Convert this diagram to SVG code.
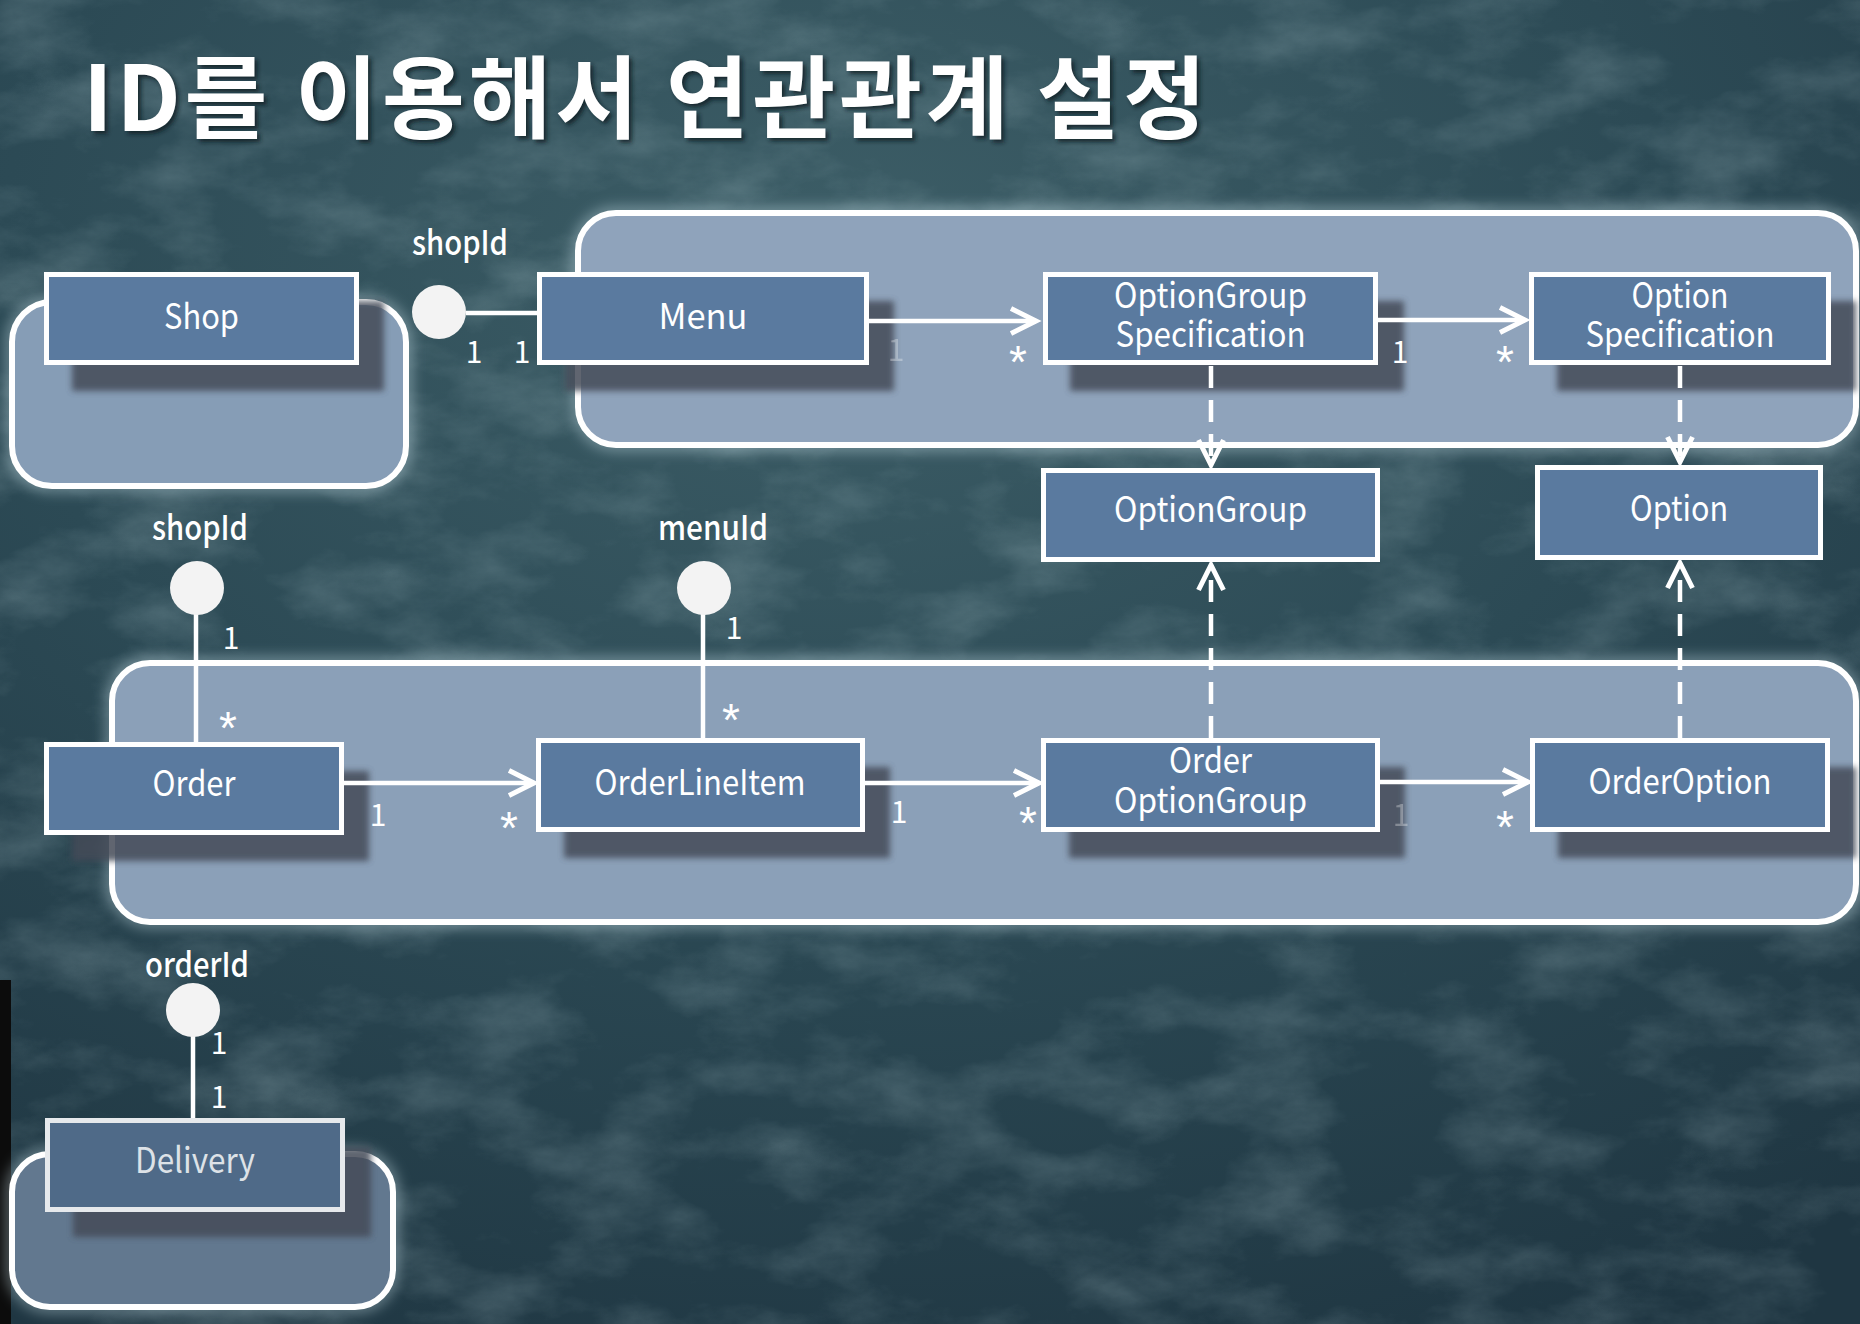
<svg xmlns="http://www.w3.org/2000/svg" width="1860" height="1324" viewBox="0 0 1860 1324">
<defs>
  <radialGradient id="bg" cx="0.45" cy="0.2" r="0.9">
    <stop offset="0" stop-color="#3d5e67"/>
    <stop offset="0.5" stop-color="#2c4a55"/>
    <stop offset="1" stop-color="#1f3642"/>
  </radialGradient>
  <filter id="tex" x="0" y="0" width="100%" height="100%">
    <feTurbulence type="fractalNoise" baseFrequency="0.009 0.016" numOctaves="6" seed="11" result="n"/>
    <feColorMatrix in="n" type="matrix" values="0 0 0 0 0.55  0 0 0 0 0.72  0 0 0 0 0.76  1.0 0 0 0 -0.42"/>
  </filter>
  <filter id="glow" x="-10%" y="-20%" width="120%" height="140%">
    <feGaussianBlur stdDeviation="7"/>
  </filter>
  <filter id="shd" x="-10%" y="-20%" width="120%" height="140%">
    <feGaussianBlur stdDeviation="3"/>
  </filter>
  <filter id="tshd" x="-5%" y="-20%" width="110%" height="140%">
    <feGaussianBlur stdDeviation="2"/>
  </filter>
  <marker id="arr" viewBox="-30 -16 36 32" refX="0" refY="0" markerWidth="36" markerHeight="32" markerUnits="userSpaceOnUse" orient="auto">
    <path d="M-25,-12.5 L0,0 L-25,12.5" fill="none" stroke="#ffffff" stroke-width="5"/>
  </marker>
  <style>
    .agg { stroke: #ffffff; stroke-width: 6; }
    .aglow { fill: none; stroke: #cfe6ee; stroke-width: 12; opacity: 0.45; filter: url(#glow); }
    .box { fill: #5a7a9f; stroke: #ffffff; stroke-width: 5; }
    .sh { fill: #444c59; opacity: 0.85; filter: url(#shd); }
    .t { font-family: "Noto Sans CJK KR", "Noto Sans", sans-serif; font-size: 35px; fill: #ffffff; text-anchor: middle; }
    .key { font-family: "Noto Sans CJK KR", "Noto Sans", sans-serif; font-size: 34px; font-weight: 500; fill: #ffffff; text-anchor: middle; }
    .m { font-family: "Noto Sans CJK KR", "Noto Sans", sans-serif; font-size: 30px; fill: #ffffff; text-anchor: middle; }
    .a { font-family: "Liberation Sans", Arial, sans-serif; font-size: 46px; fill: #ffffff; text-anchor: middle; }
    .faded { opacity: 0.3; }
    .ln { stroke: #ffffff; stroke-width: 4.5; fill: none; }
    .dash { stroke: #ffffff; stroke-width: 4.5; fill: none; stroke-dasharray: 22 12; }
    .pin { fill: #f3f3f3; }
  </style>
</defs>

<!-- background -->
<rect x="0" y="0" width="1860" height="1324" fill="url(#bg)"/>
<rect x="0" y="0" width="1860" height="1324" filter="url(#tex)" opacity="0.45"/>
<rect x="0" y="980" width="11" height="344" fill="#0c0c0c"/>

<!-- title -->
<g id="title">
  <text x="86" y="134" font-family="'Noto Sans CJK KR', 'Noto Sans', sans-serif" font-size="90" font-weight="700" fill="#0f1c22" opacity="0.8" textLength="1123" lengthAdjust="spacing" filter="url(#tshd)">ID를 이용해서 연관관계 설정</text>
  <text x="83" y="131" font-family="'Noto Sans CJK KR', 'Noto Sans', sans-serif" font-size="90" font-weight="700" fill="#ffffff" textLength="1123" lengthAdjust="spacing">ID를 이용해서 연관관계 설정</text>
</g>

<!-- aggregates -->
<g id="aggregates">
  <rect class="aglow" x="12" y="302" width="394" height="184" rx="40"/>
  <rect class="agg" x="12" y="302" width="394" height="184" rx="40" fill="#869db6"/>
  <rect class="aglow" x="578" y="213" width="1278" height="232" rx="38"/>
  <rect class="agg" x="578" y="213" width="1278" height="232" rx="38" fill="#8fa3bb"/>
  <rect class="aglow" x="112" y="663" width="1744" height="259" rx="38"/>
  <rect class="agg" x="112" y="663" width="1744" height="259" rx="38" fill="#8ba0b8"/>
  <rect class="aglow" x="12" y="1154" width="381" height="153" rx="38"/>
  <rect class="agg" x="12" y="1154" width="381" height="153" rx="38" fill="#62788f"/>
</g>

<!-- shadows -->
<g id="shadows">
  <rect class="sh" x="72" y="301" width="312" height="90"/>
  <rect class="sh" x="565" y="301" width="329" height="90"/>
  <rect class="sh" x="1070" y="301" width="334" height="90"/>
  <rect class="sh" x="1557" y="301" width="299" height="90"/>
  <rect class="sh" x="72" y="771" width="297" height="90"/>
  <rect class="sh" x="564" y="767" width="326" height="91"/>
  <rect class="sh" x="1069" y="767" width="336" height="91"/>
  <rect class="sh" x="1558" y="767" width="298" height="91"/>
  <rect class="sh" x="73" y="1147" width="298" height="90" opacity="0.7"/>
</g>

<!-- connectors -->
<g id="connectors">
  <line class="ln" x1="466" y1="313" x2="540" y2="313"/>
  <circle class="pin" cx="439" cy="312" r="27"/>
  <line class="ln" x1="869" y1="321" x2="1036" y2="321" marker-end="url(#arr)"/>
  <line class="ln" x1="1378" y1="320" x2="1525" y2="320" marker-end="url(#arr)"/>
  <line class="dash" x1="1211" y1="366" x2="1211" y2="465" marker-end="url(#arr)"/>
  <line class="dash" x1="1680" y1="366" x2="1680" y2="462" marker-end="url(#arr)"/>

  <line class="ln" x1="196" y1="614" x2="196" y2="744"/>
  <circle class="pin" cx="197" cy="588" r="27"/>
  <line class="ln" x1="703" y1="614" x2="703" y2="740"/>
  <circle class="pin" cx="704" cy="588" r="27"/>

  <line class="ln" x1="344" y1="783" x2="534" y2="783" marker-end="url(#arr)"/>
  <line class="ln" x1="865" y1="783" x2="1039" y2="783" marker-end="url(#arr)"/>
  <line class="ln" x1="1380" y1="782" x2="1528" y2="782" marker-end="url(#arr)"/>
  <line class="dash" x1="1211" y1="738" x2="1211" y2="565" marker-end="url(#arr)"/>
  <line class="dash" x1="1680" y1="738" x2="1680" y2="563" marker-end="url(#arr)"/>

  <line class="ln" x1="193" y1="1036" x2="193" y2="1120"/>
  <circle class="pin" cx="193" cy="1010" r="27"/>

  <text class="key" x="460" y="255" textLength="96" lengthAdjust="spacingAndGlyphs">shopId</text>
  <text class="key" x="200" y="540" textLength="96" lengthAdjust="spacingAndGlyphs">shopId</text>
  <text class="key" x="713" y="540" textLength="110" lengthAdjust="spacingAndGlyphs">menuId</text>
  <text class="key" x="197" y="977" textLength="104" lengthAdjust="spacingAndGlyphs">orderId</text>

  <text class="m" x="474" y="363">1</text>
  <text class="m" x="522" y="363">1</text>
  <text class="m faded" x="896" y="361">1</text>
  <text class="a" x="1018" y="378">*</text>
  <text class="m" x="1400" y="363">1</text>
  <text class="a" x="1505" y="378">*</text>

  <text class="m" x="231" y="649">1</text>
  <text class="a" x="228" y="744">*</text>
  <text class="m" x="734" y="639">1</text>
  <text class="a" x="731" y="736">*</text>

  <text class="m" x="378" y="826">1</text>
  <text class="a" x="509" y="844">*</text>
  <text class="m" x="899" y="823">1</text>
  <text class="a" x="1028" y="839">*</text>
  <text class="m faded" x="1401" y="826">1</text>
  <text class="a" x="1505" y="843">*</text>

  <text class="m" x="219" y="1054">1</text>
  <text class="m" x="219" y="1108">1</text>
</g>

<!-- nodes -->
<g id="shop">
  <rect class="box" x="46.5" y="274.5" width="310" height="88"/>
  <text class="t" x="201.5" y="329" textLength="75" lengthAdjust="spacingAndGlyphs">Shop</text>
</g>
<g id="menu">
  <rect class="box" x="539.5" y="274.5" width="327" height="88"/>
  <text class="t" x="703" y="329" textLength="89" lengthAdjust="spacingAndGlyphs">Menu</text>
</g>
<g id="optiongroup-spec">
  <rect class="box" x="1045.5" y="274.5" width="330" height="88"/>
  <text class="t"><tspan x="1210.5" y="308" textLength="193" lengthAdjust="spacingAndGlyphs">OptionGroup</tspan><tspan x="1210.5" y="347" textLength="190" lengthAdjust="spacingAndGlyphs">Specification</tspan></text>
</g>
<g id="option-spec">
  <rect class="box" x="1531.5" y="274.5" width="297" height="88"/>
  <text class="t"><tspan x="1680" y="308" textLength="97" lengthAdjust="spacingAndGlyphs">Option</tspan><tspan x="1680" y="347" textLength="189" lengthAdjust="spacingAndGlyphs">Specification</tspan></text>
</g>
<g id="optiongroup">
  <rect class="box" x="1043.5" y="470.5" width="334" height="89"/>
  <text class="t" x="1210.5" y="522" textLength="193" lengthAdjust="spacingAndGlyphs">OptionGroup</text>
</g>
<g id="option">
  <rect class="box" x="1537.5" y="467.5" width="283" height="90"/>
  <text class="t" x="1679" y="521" textLength="98" lengthAdjust="spacingAndGlyphs">Option</text>
</g>
<g id="order">
  <rect class="box" x="46.5" y="744.5" width="295" height="88"/>
  <text class="t" x="194" y="796" textLength="83" lengthAdjust="spacingAndGlyphs">Order</text>
</g>
<g id="orderlineitem">
  <rect class="box" x="538.5" y="740.5" width="324" height="89"/>
  <text class="t" x="700" y="795" textLength="211" lengthAdjust="spacingAndGlyphs">OrderLineItem</text>
</g>
<g id="order-optiongroup">
  <rect class="box" x="1043.5" y="740.5" width="334" height="89"/>
  <text class="t"><tspan x="1210.5" y="773" textLength="83" lengthAdjust="spacingAndGlyphs">Order</tspan><tspan x="1210.5" y="813" textLength="193" lengthAdjust="spacingAndGlyphs">OptionGroup</tspan></text>
</g>
<g id="orderoption">
  <rect class="box" x="1532.5" y="740.5" width="295" height="89"/>
  <text class="t" x="1680" y="794" textLength="183" lengthAdjust="spacingAndGlyphs">OrderOption</text>
</g>
<g id="delivery">
  <rect class="box" x="47.5" y="1120.5" width="295" height="89" style="fill:#4f6a88;stroke:#e6e9ec"/>
  <text class="t" x="195" y="1173" style="fill:#dde2e7" textLength="120" lengthAdjust="spacingAndGlyphs">Delivery</text>
</g>
</svg>
